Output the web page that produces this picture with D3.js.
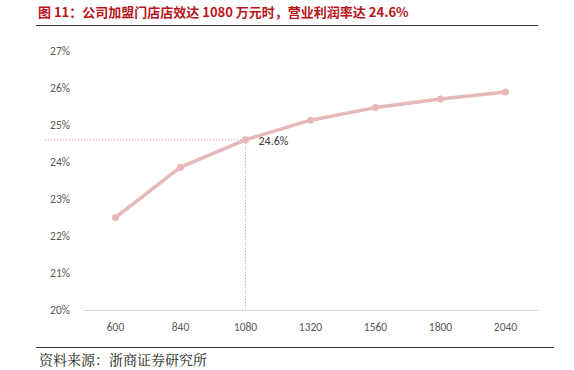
<!DOCTYPE html>
<html>
<head>
<meta charset="utf-8">
<script src="https://cdn.jsdelivr.net/npm/d3@7"></script>
<style>
  body { margin: 0; background: #fff; }
  text { font-family: Calibri, Carlito, "Open Sans", "Noto Sans CJK SC", sans-serif; }
</style>
</head>
<body>
<div id="canvas"></div>
<script>
// store sales per franchise store (10k yuan) vs operating margin
const categories = ["600", "840", "1080", "1320", "1560", "1800", "2040"];
const margins = [22.5, 23.86, 24.6, 25.13, 25.47, 25.7, 25.89];
const yTicks = [20, 21, 22, 23, 24, 25, 26, 27];
const highlightIndex = 2;

const width = 574;
const height = 370;
const margin = { top: 51, left: 83, bottom: 60, right: 36 };

const svg = d3.select("#canvas").append("svg")
  .attr("width", width)
  .attr("height", height);

// title
svg.append("text")
  .attr("x", 38)
  .attr("y", 17)
  .style("font-family", "'Noto Sans CJK SC', sans-serif")
  .style("font-size", "13px")
  .style("font-weight", "bold")
  .style("fill", "#b7141c")
  .text("图 11：公司加盟门店店效达 1080 万元时，营业利润率达 24.6%");

svg.append("line")
  .attr("x1", 36).attr("x2", 538)
  .attr("y1", 25.5).attr("y2", 25.5)
  .attr("stroke", "#333").attr("stroke-width", 1);

const x = d3.scaleBand()
  .domain(categories)
  .range([margin.left, width - margin.right])
  .padding(0);

const y = d3.scaleLinear()
  .domain([20, 27])
  .range([310, margin.top]);

// y axis labels
svg.append("g")
  .selectAll("text")
  .data(yTicks)
  .enter().append("text")
  .attr("x", 70)
  .attr("y", d => y(d) + 4)
  .attr("text-anchor", "end")
  .style("font-size", "11.5px")
  .style("fill", "#595959")
  .text(d => d + "%");

// baseline
svg.append("line")
  .attr("x1", x.range()[0]).attr("x2", x.range()[1])
  .attr("y1", y(20) + 0.5).attr("y2", y(20) + 0.5)
  .attr("stroke", "#d9d9d9").attr("stroke-width", 1);

// x labels
svg.append("g")
  .selectAll("text")
  .data(categories)
  .enter().append("text")
  .attr("x", d => x(d) + x.bandwidth() / 2)
  .attr("y", 331)
  .attr("text-anchor", "middle")
  .style("font-size", "11.5px")
  .style("fill", "#595959")
  .text(d => d);

// reference dotted lines at highlight point
const hx = x(categories[highlightIndex]) + x.bandwidth() / 2;
const hy = y(margins[highlightIndex]);
svg.append("line")
  .attr("x1", 45).attr("x2", hx)
  .attr("y1", hy).attr("y2", hy)
  .attr("stroke", "#e8949c").attr("stroke-width", 1)
  .attr("stroke-dasharray", "1.2,1.8");
svg.append("line")
  .attr("x1", hx).attr("x2", hx)
  .attr("y1", hy).attr("y2", y(20))
  .attr("stroke", "#e8949c").attr("stroke-width", 1)
  .attr("stroke-dasharray", "1.2,1.8");

const line = d3.line()
  .x((d, i) => x(categories[i]) + x.bandwidth() / 2)
  .y(d => y(d));

svg.append("path")
  .datum(margins)
  .attr("d", line)
  .attr("fill", "none")
  .attr("stroke", "#e6b9b8")
  .attr("stroke-width", 3.5)
  .attr("stroke-linejoin", "round");

svg.append("g")
  .selectAll("circle")
  .data(margins)
  .enter().append("circle")
  .attr("cx", (d, i) => x(categories[i]) + x.bandwidth() / 2)
  .attr("cy", d => y(d))
  .attr("r", 3.5)
  .attr("fill", "#e6b9b8");

svg.append("text")
  .attr("x", hx + 13)
  .attr("y", hy + 5)
  .style("font-size", "12px")
  .style("fill", "#404040")
  .text(margins[highlightIndex] + "%");

// footer
svg.append("line")
  .attr("x1", 36).attr("x2", 554)
  .attr("y1", 347.5).attr("y2", 347.5)
  .attr("stroke", "#333").attr("stroke-width", 1);

svg.append("text")
  .attr("x", 39)
  .attr("y", 365)
  .style("font-family", "'Noto Serif CJK SC', 'Noto Sans CJK SC', serif")
  .style("font-size", "14px")
  .style("fill", "#222")
  .text("资料来源：浙商证券研究所");
</script>
</body>
</html>
